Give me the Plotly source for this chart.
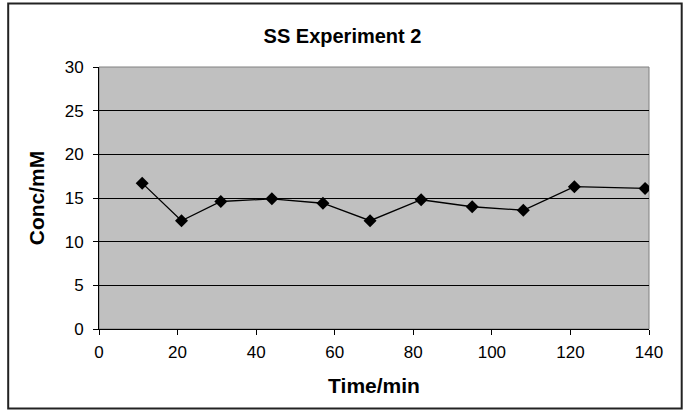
import plotly.graph_objects as go

# Sampling times (min) and measured concentrations (mM)
time_min = [11, 21, 31, 44, 57, 69, 82, 95, 108, 121, 139]
conc_mM = [16.7, 12.4, 14.6, 14.9, 14.4, 12.4, 14.8, 14.0, 13.6, 16.3, 16.1]

x_ticks = [0, 20, 40, 60, 80, 100, 120, 140]
y_ticks = [0, 5, 10, 15, 20, 25, 30]

FONT = "Liberation Sans Narrow, Arial Narrow, Liberation Sans, Arial, sans-serif"

fig = go.Figure()
fig.add_trace(go.Scatter(
    x=time_min, y=conc_mM,
    mode="lines+markers",
    line=dict(color="black", width=1.3),
    marker=dict(symbol="diamond", size=10, color="black"),
    showlegend=False,
))

W, H = 685, 410
L, R, T, B = 99.3, 649.3, 67.3, 328.7
pw, ph = R - L, B - T

def px(x):
    return (x - L) / pw

def py(y):
    return (B - y) / ph

fig.update_layout(
    width=W, height=H,
    margin=dict(l=L, r=W - R, t=T, b=H - B, pad=0),
    paper_bgcolor="white",
    plot_bgcolor="#C0C0C0",
    font=dict(family=FONT, color="black", size=17),
    title=dict(text="<b>SS Experiment 2</b>", x=0.5, xanchor="center",
               y=1 - 36 / H, yanchor="middle",
               font=dict(size=20, family=FONT)),
    xaxis=dict(
        range=[0, 140], tickvals=x_ticks, ticks="outside", ticklen=5,
        tickcolor="black", showgrid=False, zeroline=False,
        showline=True, linecolor="black", linewidth=1,
        tickfont=dict(size=17), ticklabelstandoff=3,
        title=dict(text="<b>Time/min</b>", font=dict(size=21), standoff=16),
    ),
    yaxis=dict(
        range=[0, 30], tickvals=y_ticks, ticks="outside", ticklen=5,
        tickcolor="black", showgrid=True, gridcolor="black", gridwidth=1,
        zeroline=False, showline=True, linecolor="black", linewidth=1,
        tickfont=dict(size=17), ticklabelstandoff=6,
        title=dict(text="<b>Conc/mM</b>", font=dict(size=21), standoff=14),
    ),
    shapes=[
        # plot-area frame
        dict(type="rect", xref="paper", yref="paper", x0=0, y0=0, x1=1, y1=1,
             line=dict(color="#808080", width=1), layer="below"),
        # outer chart border
        dict(type="rect", xref="paper", yref="paper",
             x0=px(8.5), x1=px(682), y0=py(408), y1=py(4),
             line=dict(color="#222222", width=2)),
    ],
)

fig.write_html("out.html")
